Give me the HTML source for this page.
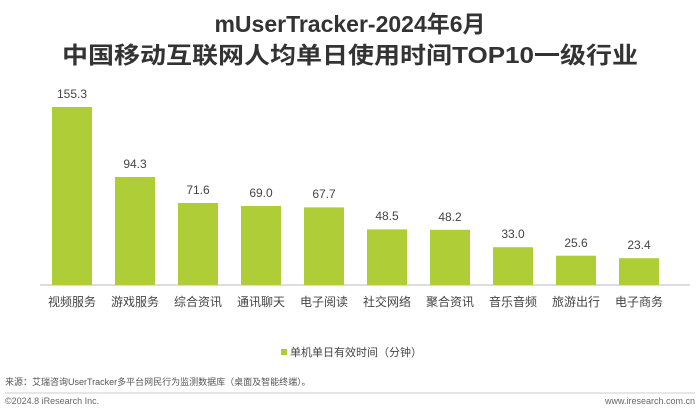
<!DOCTYPE html>
<html><head><meta charset="utf-8"><style>
body{margin:0;background:#fff;width:700px;height:410px;overflow:hidden;font-family:"Liberation Sans","Noto Sans CJK SC",sans-serif}
</style></head><body>
<svg width="700" height="410" xmlns="http://www.w3.org/2000/svg" font-family="Liberation Sans, Noto Sans CJK SC, sans-serif">
<text x="350" y="32" text-anchor="middle" font-size="23" font-weight="bold" fill="#333">mUserTracker-2024年6月</text>
<text x="350" y="63" text-anchor="middle" font-size="23" font-weight="bold" fill="#333" textLength="576" lengthAdjust="spacingAndGlyphs">中国移动互联网人均单日使用时间TOP10一级行业</text>
<line x1="40" y1="285" x2="690" y2="285" stroke="#bbb" stroke-width="1"/>
<g fill="#aecd36">
<rect x="52" y="107" width="40" height="178"/>
<rect x="115" y="177" width="40" height="108"/>
<rect x="178" y="203" width="40" height="82"/>
<rect x="241" y="206" width="40" height="79"/>
<rect x="304" y="207.4" width="40" height="77.6"/>
<rect x="367" y="229.4" width="40" height="55.6"/>
<rect x="430" y="229.8" width="40" height="55.2"/>
<rect x="493" y="247.2" width="40" height="37.8"/>
<rect x="556" y="255.7" width="40" height="29.3"/>
<rect x="619" y="258.2" width="40" height="26.8"/>
</g>
<g font-size="12" fill="#444" text-anchor="middle">
<text x="72" y="98">155.3</text>
<text x="135" y="168">94.3</text>
<text x="198" y="194">71.6</text>
<text x="261" y="197">69.0</text>
<text x="324" y="198">67.7</text>
<text x="387" y="220">48.5</text>
<text x="450" y="221">48.2</text>
<text x="513" y="238">33.0</text>
<text x="576" y="247">25.6</text>
<text x="639" y="249">23.4</text>
</g>
<g font-size="12" fill="#444" text-anchor="middle">
<text x="72" y="306">视频服务</text>
<text x="135" y="306">游戏服务</text>
<text x="198" y="306">综合资讯</text>
<text x="261" y="306">通讯聊天</text>
<text x="324" y="306">电子阅读</text>
<text x="387" y="306">社交网络</text>
<text x="450" y="306">聚合资讯</text>
<text x="513" y="306">音乐音频</text>
<text x="576" y="306">旅游出行</text>
<text x="639" y="306">电子商务</text>
</g>
<rect x="281" y="349" width="6" height="6" fill="#aecd36"/>
<text x="290" y="356" font-size="11" fill="#444">单机单日有效时间（分钟）</text>
<text x="5" y="385" font-size="9" fill="#555">来源：艾瑞咨询UserTracker多平台网民行为监测数据库（桌面及智能终端）。</text>
<line x1="5" y1="393" x2="695" y2="393" stroke="#ccc" stroke-width="1"/>
<text x="5" y="404" font-size="9" fill="#666">©2024.8 iResearch Inc.</text>
<text x="695" y="404" font-size="9" fill="#666" text-anchor="end">www.iresearch.com.cn</text>
</svg>
</body></html>
